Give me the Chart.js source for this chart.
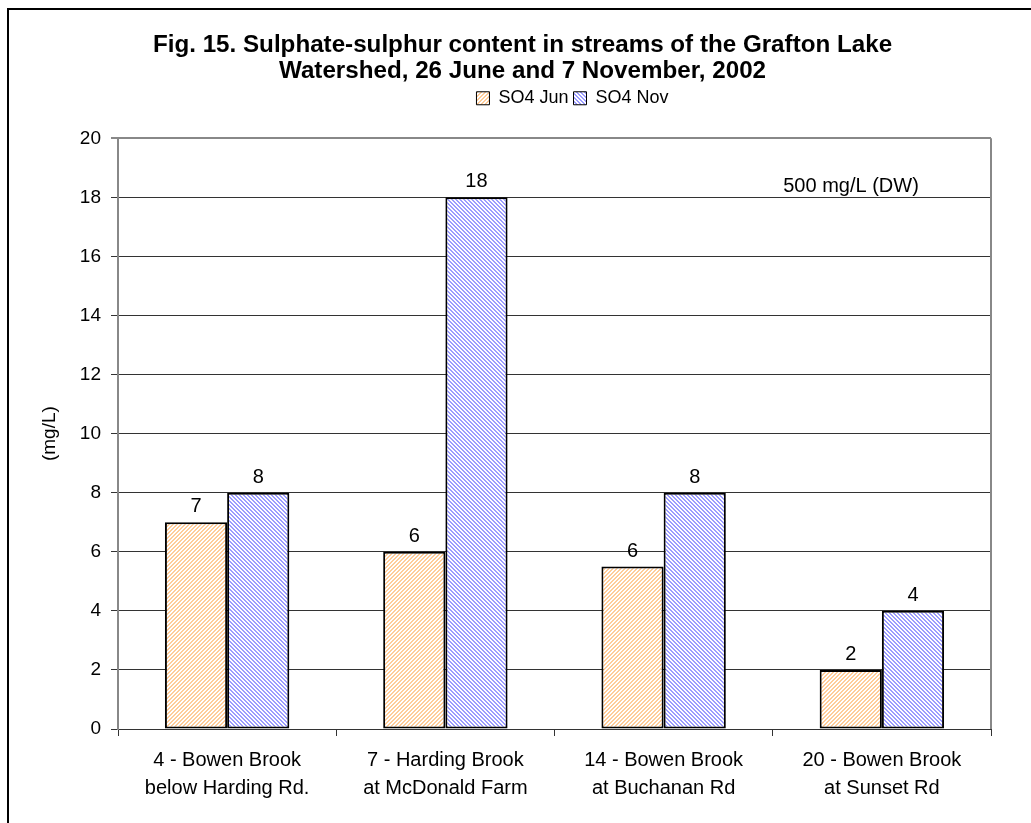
<!DOCTYPE html>
<html>
<head>
<meta charset="utf-8">
<script src="https://cdn.jsdelivr.net/npm/chart.js@4.4.1/dist/chart.umd.min.js"></script>
<style>
  html, body { margin: 0; padding: 0; background: #fff; }
  #chartContainer { width: 1031px; height: 823px; }
</style>
</head>
<body>
<div id="chartContainer"><canvas id="so4Chart"></canvas></div>
<script>
// sampling stations (x-axis, two-line labels)
const stations = [
  ['4 - Bowen Brook', 'below Harding Rd.'],
  ['7 - Harding Brook', 'at McDonald Farm'],
  ['14 - Bowen Brook', 'at Buchanan Rd'],
  ['20 - Bowen Brook', 'at Sunset Rd']
];
const seriesNames = ['SO4 Jun', 'SO4 Nov'];
const so4Jun = [7, 6, 5.5, 2];   // mg/L, 26 June
const so4Nov = [8, 18, 8, 4];    // mg/L, 7 November
const yTicks = [0, 2, 4, 6, 8, 10, 12, 14, 16, 18, 20];
const titleLines = [
  'Fig. 15. Sulphate-sulphur content in streams of the Grafton Lake',
  'Watershed, 26 June and 7 November, 2002'
];
const yTitle = '(mg/L)';
const noteText = '500 mg/L (DW)';

const FONT = '"Liberation Sans", Arial, sans-serif';
Chart.defaults.font.family = FONT;
Chart.defaults.color = '#000';

// small diagonal hatch tile, dir 1 = "/", -1 = "\"
function hatch(color, dir) {
  const tile = document.createElement('canvas');
  tile.width = 4; tile.height = 4;
  const g = tile.getContext('2d');
  g.fillStyle = '#fff';
  g.fillRect(0, 0, 4, 4);
  g.fillStyle = color;
  for (let x = 0; x < 4; x++) {
    for (let y = 0; y < 4; y++) {
      const k = dir > 0 ? (x + y) % 4 : (x - y + 8) % 4;
      if (k < 2) g.fillRect(x, y, 1, 1);
    }
  }
  return document.createElement('canvas').getContext('2d').createPattern(tile, 'repeat');
}

const junFill = hatch('#ffcc99', 1);
const novFill = hatch('#9c9cff', -1);

// outer frame + right edge of the plot area
const framePlugin = {
  id: 'frame',
  afterLayout(chart) {
    // legend and title sit a little right of the plot centre
    chart.legend.left += 58;
    chart.legend.right += 58;
    chart.titleBlock.left += 8;
    chart.titleBlock.right += 8;
  },
  beforeDraw(chart) {
    const ctx = chart.ctx;
    ctx.save();
    ctx.fillStyle = '#fff';
    ctx.fillRect(0, 0, chart.width, chart.height);
    ctx.strokeStyle = '#000';
    ctx.lineWidth = 2;
    ctx.strokeRect(8, 9, 1200, 1000);
    ctx.restore();
  },
  afterDraw(chart) {
    const {ctx, chartArea} = chart;
    ctx.save();
    ctx.strokeStyle = '#888';
    ctx.lineWidth = 2;
    ctx.beginPath();
    ctx.moveTo(chartArea.right, chartArea.top);
    ctx.lineTo(chartArea.right, chartArea.bottom);
    ctx.stroke();
    ctx.restore();
  }
};

// value labels above the bars, and the guideline note
const labelPlugin = {
  id: 'barLabels',
  afterDatasetsDraw(chart) {
    const ctx = chart.ctx;
    ctx.save();
    ctx.font = '20px ' + FONT;
    ctx.fillStyle = '#000';
    ctx.textAlign = 'center';
    ctx.textBaseline = 'alphabetic';
    chart.data.datasets.forEach((ds, i) => {
      chart.getDatasetMeta(i).data.forEach((bar, j) => {
        ctx.fillText(String(Math.round(ds.data[j])), bar.x, bar.y - 10);
      });
    });
    const y = chart.scales.y.getPixelForValue(18);
    ctx.textBaseline = 'middle';
    ctx.fillText(noteText, chart.chartArea.right - 140, y - 11);
    ctx.restore();
  }
};

const ctx = document.getElementById('so4Chart').getContext('2d');

const config = {
  type: 'bar',
  data: {
    labels: stations,
    datasets: [
      {
        label: seriesNames[0],
        data: so4Jun,
        backgroundColor: junFill,
        borderColor: '#000',
        borderWidth: 2,
        borderSkipped: false
      },
      {
        label: seriesNames[1],
        data: so4Nov,
        backgroundColor: novFill,
        borderColor: '#000',
        borderWidth: 2,
        borderSkipped: false
      }
    ]
  },
  options: {
    responsive: true,
    maintainAspectRatio: false,
    animation: false,
    datasets: {
      bar: { categoryPercentage: 0.57, barPercentage: 1 }
    },
    layout: { padding: { top: 10, left: 38, right: 40, bottom: 0 } },
    plugins: {
      tooltip: { enabled: false },
      title: {
        display: true,
        text: titleLines,
        color: '#000',
        font: { size: 24.2, weight: 'bold', lineHeight: 1.08 },
        padding: { top: 22, bottom: 0 }
      },
      legend: {
        display: true,
        position: 'top',
        labels: {
          boxWidth: 13,
          boxHeight: 13,
          padding: 5,
          color: '#000',
          font: { size: 18 },
          generateLabels(chart) {
            return Chart.defaults.plugins.legend.labels.generateLabels(chart)
              .map(item => Object.assign(item, { lineWidth: 1 }));
          }
        }
      }
    },
    scales: {
      x: {
        afterFit(scale) { scale.height = 94; },
        grid: {
          display: true,
          offset: true,
          drawOnChartArea: false,
          drawTicks: true,
          tickLength: 7,
          color: '#333'
        },
        border: { display: true, color: '#333', width: 1 },
        ticks: {
          padding: 10,
          maxRotation: 0,
          color: '#000',
          font: { size: 20, lineHeight: 1.4 }
        }
      },
      // empty band between the legend and the plot
      gap: {
        type: 'category',
        position: 'top',
        afterFit(scale) { scale.height = 21; },
        grid: { display: false },
        border: { display: false },
        ticks: { display: false }
      },
      y: {
        min: 0,
        max: 20,
        afterFit(scale) { scale.width = 80; },
        afterBuildTicks(scale) { scale.ticks = yTicks.map(v => ({ value: v })); },
        grid: {
          color: c => (c.tick && c.tick.value === 20 ? '#888' : '#333'),
          lineWidth: c => (c.tick && c.tick.value === 20 ? 2 : 1),
          tickLength: 7
        },
        border: { display: true, color: '#888', width: 2 },
        ticks: {
          padding: 10,
          color: '#000',
          font: { size: 19 }
        },
        title: {
          display: true,
          text: yTitle,
          color: '#000',
          font: { size: 19 },
          padding: { top: 0, bottom: 0 }
        }
      }
    }
  },
  plugins: [framePlugin, labelPlugin]
};

const so4Chart = new Chart(ctx, config);
</script>
</body>
</html>
